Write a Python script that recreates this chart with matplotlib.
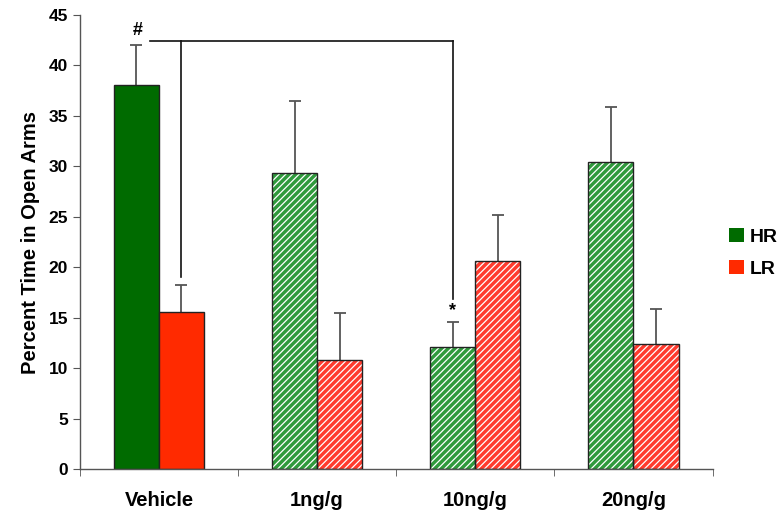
import matplotlib.pyplot as plt
import matplotlib
import numpy as np
from matplotlib.patches import Patch

matplotlib.rcParams['font.family'] = ['Liberation Sans', 'DejaVu Sans']
matplotlib.rcParams['font.weight'] = 'bold'
matplotlib.rcParams['hatch.linewidth'] = 0.9

# data
groups = ['Vehicle', '1ng/g', '10ng/g', '20ng/g']
hr_mean = [38.1, 29.3, 12.1, 30.4]
hr_err = [3.9, 7.2, 2.5, 5.5]
lr_mean = [15.6, 10.8, 20.6, 12.4]
lr_err = [2.6, 4.7, 4.6, 3.5]

COLORS = {
    'hr': '#006b00',
    'lr': '#ff2a00',
    'hr_hatch': '#2f9a3c',
    'lr_hatch': '#ff3b2e',
}

fig = plt.figure(figsize=(7.83, 5.16), dpi=100)
ax = fig.add_axes([0.102, 0.091, 0.808, 0.880])

x = np.arange(len(groups))
width = 0.285

for i in range(len(groups)):
    for off, mean, err, key in [(-width / 2, hr_mean[i], hr_err[i], 'hr'),
                                (width / 2, lr_mean[i], lr_err[i], 'lr')]:
        if i == 0:
            ax.bar(x[i] + off, mean, width, color=COLORS[key], edgecolor='#222222',
                   linewidth=1.0, zorder=2)
        else:
            # hatched fill, white stripes
            ax.bar(x[i] + off, mean, width, color=COLORS[key + '_hatch'], edgecolor='white',
                   hatch='/////', linewidth=0, zorder=2)
            ax.bar(x[i] + off, mean, width, color='none', edgecolor='#222222',
                   linewidth=1.0, zorder=3)
        # upward error bar only
        ax.vlines(x[i] + off, mean, mean + err, color='#555555', lw=1.3, zorder=1)
        ax.plot(x[i] + off, mean + err, marker='_', markersize=8, mew=1.3,
                color='#555555', zorder=1)

# significance bracket
bx_left = -0.057
bx_a = width / 2
bx_b = 2 - width / 2
ax.plot([bx_left, bx_b], [42.4, 42.4], color='#111111', lw=1.2, zorder=4)
ax.plot([bx_a, bx_a], [42.4, 19.0], color='#111111', lw=1.2, zorder=4)
ax.plot([bx_b, bx_b], [42.4, 16.9], color='#111111', lw=1.2, zorder=4)
ax.text(-width / 2 + 0.005, 42.6, '#', ha='center', va='bottom', fontsize=13, fontweight='bold')
ax.text(bx_b, 14.9, '*', ha='center', va='bottom', fontsize=13, fontweight='bold')

ax.set_xlim(-0.5, 3.5)
ax.set_ylim(0, 45)
ax.set_yticks(np.arange(0, 46, 5))
ax.set_xticks(x)
ax.set_xticklabels(groups, fontsize=14.5, fontweight='bold')
ax.tick_params(axis='x', which='major', length=0, pad=16)
ax.set_xticks(np.arange(-0.5, 3.6, 1), minor=True)
ax.tick_params(axis='x', which='minor', length=5, color='#555555', direction='out')
ax.tick_params(axis='y', length=5, color='#555555', labelsize=12.5)
for lab in ax.get_yticklabels():
    lab.set_fontweight('bold')
ax.set_ylabel('Percent Time in Open Arms', fontsize=14.5, fontweight='bold', labelpad=6)

for s in ['top', 'right']:
    ax.spines[s].set_visible(False)
for s in ['left', 'bottom']:
    ax.spines[s].set_color('#555555')
    ax.spines[s].set_linewidth(1.0)

handles = [Patch(facecolor=COLORS['hr'], label='HR'), Patch(facecolor=COLORS['lr'], label='LR')]
fig.legend(handles=handles, loc='center left', bbox_to_anchor=(0.931, 0.51), frameon=False,
           borderpad=0, borderaxespad=0,
           prop={'size': 14, 'weight': 'bold'}, handlelength=0.75, handleheight=0.75,
           handletextpad=0.3, labelspacing=0.75)

plt.savefig('out.png', dpi=100, facecolor='white')
plt.close()
